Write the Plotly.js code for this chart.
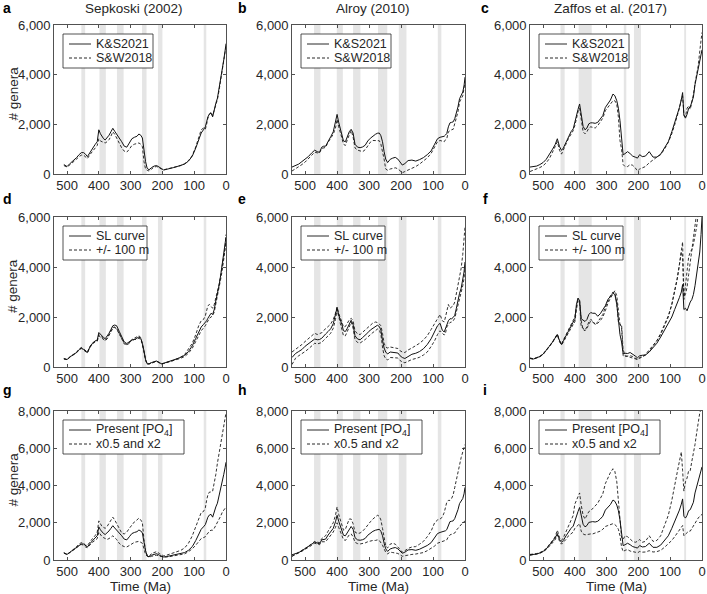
<!DOCTYPE html>
<html><head><meta charset="utf-8">
<script src="https://cdn.plot.ly/plotly-3.0.1.min.js"></script>
<style>html,body{margin:0;padding:0;background:#fff}#chart{width:707px;height:594px}</style>
</head><body><div id="chart"></div>
<script>
// ---------- data (ages in Ma, values = # genera) ----------
const age = [541,530,520,510,500, 490,480,470,462,455, 448,442,436,428,420, 412,405,400,395,390,
  385,380,374,368,362, 356,350,344,336,328, 320,312,304,296,288, 280,274,268,263,258,
  253,248,242,234,226, 218,210,203,196,188, 178,166,154,142,130, 118,106,95,86,78,
  71,65,61,57,52, 47,42,37,32,27, 22,17,12,7,3, 0];

// Sepkoski (2002)
const sepKS = [null,null,null,380,300, 430,540,660,780,860, 860,800,700,880,1050, 1180,1300,1780,1620,1500,
  1420,1370,1450,1560,1700, 1840,1720,1620,1450,1300, 1120,1080,1250,1420,1480, 1520,1610,1560,1450,900,
  500,230,170,260,320, 340,260,220,160,180, 220,255,300,340,400, 520,720,1050,1350,1650,
  1780,1900,2100,2300,2420, 2450,2300,2600,2850,3050, 3400,3800,4200,4600,4950, 5250];
const sepSW = [null,null,null,340,280, 380,480,600,700,760, 760,700,620,780,900, 1000,1150,1420,1330,1300,
  1260,1250,1300,1380,1520, 1700,1600,1450,1250,1050, 920,880,1000,1150,1200, 1230,1250,1200,1100,500,
  200,150,120,200,280, 300,230,200,170,190, 230,270,300,340,420, 540,750,1100,1450,1780,
  1850,1800,2000,2250,2400, 2500,2350,2550,2800,3000, 3350,3800,4150,4550,4900, 5100];
const sepSL = [null,null,null,330,300, 410,500,580,700,760, 700,620,580,800,950, 1040,1080,1380,1300,1250,
  1180,1130,1220,1350,1500, 1650,1680,1650,1430,1200, 1000,940,1000,1080,1100, 1150,1200,1150,950,650,
  300,130,130,180,200, 240,180,130,150,180, 230,270,330,390,470, 620,850,1150,1400,1600,
  1700,1780,1850,1950,2050, 2150,2100,2300,2650,2900, 3250,3650,4050,4550,4900, 5200];
const sepSLhi = [null,null,null,340,290, 400,490,570,680,740, 680,600,560,780,920, 1000,1050,1300,1250,1200,
  1130,1080,1150,1300,1450, 1580,1600,1550,1350,1100, 920,880,950,1100,1150, 1200,1250,1180,950,620,
  280,120,120,170,190, 220,170,130,150,170, 220,260,320,400,500, 700,950,1300,1650,1850,
  1900,2050,2250,2450,2500, 2400,2350,2500,2750,3000, 3300,3650,4000,4350,4700, 5000];
const sepSLlo = [null,null,null,320,300, 420,510,590,720,780, 720,640,600,820,960, 1020,1030,1250,1200,1150,
  1100,1050,1120,1250,1400, 1550,1580,1520,1330,1150, 950,900,980,1060,1100, 1100,1150,1100,900,600,
  280,130,120,170,200, 240,170,120,140,170, 210,250,300,350,420, 550,750,1000,1250,1450,
  1550,1650,1750,1850,1950, 2000,2050,2200,2500,2800, 3150,3500,3850,4300,4700, 5300];
const sepPx2 = [null,null,null,380,300, 420,550,720,860,930, 900,800,780,980,1150, 1300,1500,2100,1900,1800,
  1750,1700,1800,1950,2100, 2300,2150,1950,1700,1450, 1400,1500,1700,1900,2050, 2150,2250,2150,2000,1100,
  500,250,200,350,420, 450,350,300,220,250, 300,370,450,520,650, 900,1300,1800,2300,2550,
  2600,2800,3200,3500,3650, 3650,3700,4100,4600,5200, 5700,6200,6800,7300,7700, 7900];
const sepPx05 = [null,null,null,380,300, 410,520,650,780,830, 800,700,660,820,950, 1050,1150,1500,1350,1250,
  1200,1150,1100,1150,1250, 1300,1200,1100,900,780, 720,700,780,880,950, 980,1000,950,900,600,
  300,200,150,200,250, 260,200,180,150,160, 180,220,250,280,330, 450,600,800,1000,1150,
  1200,1250,1350,1450,1550, 1600,1600,1700,1850,2000, 2150,2350,2550,2700,2800, 2850];

// Alroy (2010)
const alrKS = [280,340,400,500,600, 700,840,960,900,870, 1080,1120,1120,1340,1500, 1700,2050,2400,2080,1850,
  1600,1330,1300,1480,1700, 1800,1650,1200,1080,1060, 1090,1160,1330,1440,1540, 1600,1640,1650,1540,1300,
  900,600,460,590,640, 670,600,480,360,420, 540,560,520,580,660, 780,930,1200,1420,1480,
  1500,1520,1570,1630,1900, 2060,2080,2100,2230,2450, 2700,3030,3150,3300,3550, 3900];
const alrSW = [120,200,280,380,480, 600,740,880,850,850, 1030,1060,1070,1280,1430, 1600,1850,2200,1900,1700,
  1450,1200,1150,1380,1600, 1750,1500,1050,960,920, 900,980,1150,1280,1350, 1350,1350,1340,1200,950,
  600,200,150,200,230, 250,210,120,50,100, 160,220,300,400,520, 650,830,1100,1300,1350,
  1320,1300,1380,1420,1700, 1750,1780,1800,2050,2350, 2500,2900,3050,3150,3450, 3750];
const alrSL = [380,540,620,700,830, 920,1020,1120,1090,1100, 1150,1250,1320,1420,1530, 1730,2050,2380,2080,1900,
  1700,1450,1420,1550,1750, 1870,1700,1250,1120,1090, 1180,1260,1370,1480,1550, 1620,1670,1620,1480,1070,
  760,600,520,600,580, 570,560,450,380,340, 420,510,550,620,730, 900,1130,1400,1650,1750,
  1470,1400,1550,1730,1850, 1930,1930,1980,2070,2350, 2700,2950,3150,3450,3800, 4200];
const alrSLhi = [600,700,800,900,1020, 1130,1260,1350,1300,1330, 1370,1460,1520,1620,1720, 1900,2150,2400,2150,2000,
  1800,1600,1620,1750,1880, 1950,1850,1450,1320,1300, 1400,1480,1600,1700,1760, 1800,1780,1720,1650,1350,
  950,800,760,800,780, 760,740,650,600,580, 680,760,850,950,1080, 1250,1500,1750,1950,2100,
  1850,1800,2000,2250,2500, 2350,2400,2450,2600,2950, 3250,3600,3950,4500,5000, 5600];
const alrSLlo = [100,350,450,520,620, 720,830,950,920,940, 980,1070,1150,1250,1350, 1550,1900,2300,1950,1750,
  1500,1250,1250,1400,1600, 1800,1550,1100,980,960, 1020,1100,1200,1300,1380, 1450,1520,1480,1300,800,
  450,330,280,380,380, 370,360,260,200,170, 230,300,340,390,480, 600,820,1050,1300,1450,
  1350,1280,1350,1600,1700, 1780,1800,1850,1950,2200, 2450,2750,3000,3250,3550, 3900];
const alrPx2 = [200,300,400,520,620, 720,860,1000,950,930, 1150,1250,1300,1550,1750, 2000,2400,2850,2450,2150,
  1900,1600,1650,1950,2200, 2200,1950,1500,1420,1450, 1550,1700,1900,2050,2200, 2300,2400,2350,2150,1700,
  1100,750,650,850,900, 850,700,550,420,500, 620,700,720,850,1000, 1250,1550,2000,2150,2200,
  2300,2550,2800,3100,3200, 3200,3300,3500,3900,4300, 4800,5200,5500,5800,6100, 6200];
const alrPx05 = [200,280,380,470,560, 650,780,900,860,820, 980,1000,980,1150,1300, 1500,1750,2000,1750,1550,
  1350,1100,1050,1200,1350, 1400,1250,950,880,860, 880,920,980,1020,1050, 1050,1080,1050,950,800,
  600,420,330,420,400, 380,350,280,200,230, 280,300,320,360,400, 500,620,750,900,950,
  980,1000,1050,1080,1250, 1350,1380,1400,1450,1600, 1700,1850,1950,2000,2050, 2100];

// Zaffos et al. (2017)
const zafKS = [280,300,320,380,460, 590,780,1000,1180,1420, 1100,950,1050,1290,1520, 1700,1820,2100,2450,2600,
  2820,2400,1920,1780,1850, 2020,2060,2060,2040,2080, 2200,2350,2680,2830,2980, 3220,3150,2950,2650,2150,
  1250,770,820,900,820, 720,680,640,780,700, 720,900,680,680,800, 1050,1300,1700,2040,2380,
  2680,3000,3280,2350,2250, 2400,2650,2700,2900,3100, 3600,3950,4250,4550,4800, 5000];
const zafSW = [100,150,200,260,330, 450,620,860,1100,1300, 950,800,950,1200,1430, 1620,1750,1950,2300,2500,
  2650,2150,1700,1620,1700, 1850,1900,1880,1850,1950, 2100,2250,2550,2700,2850, 2950,2950,2800,2300,1350,
  1000,380,300,300,380, 350,250,120,200,250, 300,450,580,680,780, 1000,1280,1620,1980,2320,
  2650,3000,3150,2400,2300, 2650,2750,2600,2850,3200, 3650,4000,4350,4950,5400, 5700];
const zafSL = [350,320,370,420,510, 650,830,1000,1140,1300, 1050,900,1050,1250,1470, 1650,1800,1900,2500,2760,
  2650,1930,1880,1820,1900, 2100,2180,2150,2150,2030, 2130,2280,2450,2700,2830, 2950,2900,2500,1900,1300,
  1000,530,550,540,580, 520,440,370,450,470, 480,600,760,950,1200, 1480,1700,2000,2300,2530,
  2780,3000,3300,2300,2350, 2250,2450,2600,2700,2900, 3250,3650,4100,4600,5300, 6000];
const zafSLhi = [340,310,360,410,500, 640,820,990,1120,1280, 1000,880,1000,1200,1400, 1550,1700,1800,2300,2650,
  2550,1600,1550,1480,1600, 1800,1900,1850,1700,1750, 1850,2000,2250,2550,2750, 2950,3050,2850,2200,1700,
  1700,700,450,420,400, 380,320,300,350,400, 500,680,850,1050,1300, 1650,2000,2500,3000,3550,
  4100,4800,5000,2700,3200, 3900,4400,4600,4700,4900, 5200,5600,6100,6800,7500, 8000];
const zafSLlo = [360,330,380,430,520, 660,840,1010,1150,1320, 1060,920,1080,1280,1500, 1700,1850,2000,2400,2700,
  2700,1850,1500,1450,1550, 1700,1850,1800,1700,1800, 1950,2100,2400,2650,2850, 3000,2950,2600,1800,1700,
  1600,450,420,440,450, 420,360,300,380,430, 470,620,820,1050,1350, 1700,2050,2500,3000,3500,
  4100,4600,4400,2800,2900, 3200,3700,4100,4500,4900, 5300,5800,6300,6800,7300, 7800];
const zafPx2 = [300,320,340,400,480, 620,820,1050,1250,1600, 1200,1050,1200,1500,1800, 2100,2400,3000,3200,3300,
  3600,2950,2400,2200,2400, 2600,2650,2750,2900,3050, 3300,3550,4100,4400,4700, 4900,4750,4200,3300,2500,
  1200,1100,1300,1250,1100, 1000,950,1000,1100,950, 1000,1300,1000,1050,1300, 1800,2400,3200,3900,4700,
  5300,5800,4800,3700,4200, 4400,4800,4800,5300,5700, 6200,6800,7400,7900,8100, 8200];
const zafPx05 = [250,280,300,360,440, 560,740,920,1080,1350, 1000,850,950,1100,1300, 1400,1500,1700,1800,1900,
  1950,1550,1400,1350,1380, 1400,1400,1400,1450,1500, 1550,1650,1800,1850,1900, 1950,1900,1800,1650,1300,
  700,450,520,560,480, 430,420,380,460,420, 430,500,430,450,520, 680,850,1050,1250,1450,
  1650,1800,1850,1300,1400, 1500,1550,1550,1700,1850, 2000,2150,2250,2350,2400, 2450];

// grey intervals [older, younger] Ma, one list per dataset column
const bandsSep = [[455,443],[398,378],[343,322],[264,250],[214,200],[70,62]];
const bandsAlr = [[472,452],[401,382],[350,327],[272,243],[207,183],[85,74]];
const bandsZaf = [[445,432],[388,347],[246,238],[214,192],[56,50]];

const columnTitles = ['Sepkoski (2002)', 'Alroy (2010)', 'Zaffos et al. (2017)'];
const panelLetters = ['a','b','c','d','e','f','g','h','i'];
const legendLabels = [['K&S2021','S&W2018'], ['SL curve','+/- 100 m'], ['Present [PO<sub>4</sub>]','x0.5 and x2']];
const xTicks = [500,400,300,200,100,0];
const yTicksRow = [[0,2000,4000,6000],[0,2000,4000,6000],[0,2000,4000,6000,8000]];
const yMaxRow = [6000, 6000, 8000];

// ---------- layout geometry ----------
const W = 707, H = 594;
const colPx = [[54,226],[292,465],[530,702]];
const rowPx = [[25,174],[217,367],[411,560]];
const letterX = [7, 242, 485], letterY = [8, 199, 390];
const legW = [90, 84, 121], legH = 34;
const px2x = p => p / W;
const px2y = p => 1 - p / H;
const ink = '#262626';
const FONT = 'Liberation Sans, Arial, Helvetica, sans-serif';

const panels = [
  [sepKS, [sepSW], bandsSep], [alrKS, [alrSW], bandsAlr], [zafKS, [zafSW], bandsZaf],
  [sepSL, [sepSLhi, sepSLlo], bandsSep], [alrSL, [alrSLhi, alrSLlo], bandsAlr], [zafSL, [zafSLhi, zafSLlo], bandsZaf],
  [sepKS, [sepPx2, sepPx05], bandsSep], [alrKS, [alrPx2, alrPx05], bandsAlr], [zafKS, [zafPx2, zafPx05], bandsZaf]
];

const data = [], shapes = [], annotations = [];
const layout = {
  width: W, height: H, margin: {l:0, r:0, t:0, b:0},
  paper_bgcolor: '#fff', plot_bgcolor: '#fff', showlegend: false,
  font: {family: FONT, size: 13, color: ink}
};

panels.forEach((p, k) => {
  const r = Math.floor(k / 3), c = k % 3, id = k === 0 ? '' : String(k + 1);
  const common = {ticks: 'inside', ticklen: 3, tickwidth: 0.8, tickcolor: ink, showline: true,
    linecolor: ink, linewidth: 0.8, mirror: 'ticks', showgrid: false, zeroline: false, fixedrange: true,
    ticklabeloverflow: 'allow', tickfont: {family: FONT, size: 13, color: ink}};
  layout['xaxis' + id] = Object.assign({}, common, {
    domain: [px2x(colPx[c][0]), px2x(colPx[c][1])], range: [541, 0], anchor: 'y' + id,
    tickmode: 'array', tickvals: xTicks, ticktext: xTicks.map(String)});
  layout['yaxis' + id] = Object.assign({}, common, {
    domain: [px2y(rowPx[r][1]), px2y(rowPx[r][0])], range: [0, yMaxRow[r]], anchor: 'x' + id,
    tickmode: 'array', tickvals: yTicksRow[r], tickformat: ',d'});

  p[2].forEach(b => shapes.push({type: 'rect', xref: 'x' + id, yref: 'y' + id + ' domain',
    x0: b[0], x1: b[1], y0: 0, y1: 1, fillcolor: '#e5e5e5', line: {width: 0}, layer: 'below'}));

  p[1].forEach(s => data.push({x: age, y: s, xaxis: 'x' + id, yaxis: 'y' + id, type: 'scatter', mode: 'lines',
    line: {color: '#1a1a1a', width: 0.9, dash: '3px,2px'}, hoverinfo: 'skip', connectgaps: false}));
  data.push({x: age, y: p[0], xaxis: 'x' + id, yaxis: 'y' + id, type: 'scatter', mode: 'lines',
    line: {color: '#111', width: 1}, hoverinfo: 'skip', connectgaps: false});

  // legend box
  const L = colPx[c][0] + 9, T = rowPx[r][0] + 9;
  shapes.push({type: 'rect', xref: 'paper', yref: 'paper', x0: px2x(L), x1: px2x(L + legW[r]),
    y0: px2y(T + legH), y1: px2y(T), fillcolor: '#fff', line: {color: ink, width: 0.8}, layer: 'above'});
  [0, 1].forEach(j => {
    const yy = T + 10 + j * 14;
    shapes.push({type: 'line', xref: 'paper', yref: 'paper', x0: px2x(L + 6), x1: px2x(L + 28),
      y0: px2y(yy), y1: px2y(yy), line: {color: '#111', width: 0.9, dash: j ? '3px,2px' : 'solid'}, layer: 'above'});
    annotations.push({xref: 'paper', yref: 'paper', x: px2x(L + 31), y: px2y(yy), xanchor: 'left', yanchor: 'middle',
      text: legendLabels[r][j], showarrow: false, font: {family: FONT, size: 12.5, color: ink}});
  });

  // panel letter
  annotations.push({xref: 'paper', yref: 'paper', x: px2x(letterX[c]), y: px2y(letterY[r]), xanchor: 'center', yanchor: 'middle',
    text: '<b>' + panelLetters[k] + '</b>', showarrow: false, font: {family: FONT, size: 14, color: '#000'}});
});

columnTitles.forEach((t, c) => annotations.push({xref: 'paper', yref: 'paper', x: px2x((colPx[c][0] + colPx[c][1]) / 2 - 6),
  y: px2y(8), xanchor: 'center', yanchor: 'middle', text: t, showarrow: false, font: {family: FONT, size: 13.5, color: ink}}));
rowPx.forEach(rp => annotations.push({xref: 'paper', yref: 'paper', x: px2x(13), y: px2y((rp[0] + rp[1]) / 2 - 6),
  xanchor: 'center', yanchor: 'middle', textangle: -90, text: '# genera', showarrow: false, font: {family: FONT, size: 13.5, color: ink}}));
colPx.forEach(cp => annotations.push({xref: 'paper', yref: 'paper', x: px2x((cp[0] + cp[1]) / 2), y: px2y(586),
  xanchor: 'center', yanchor: 'middle', text: 'Time (Ma)', showarrow: false, font: {family: FONT, size: 13.5, color: ink}}));

layout.shapes = shapes;
layout.annotations = annotations;
Plotly.newPlot('chart', data, layout, {staticPlot: true, displayModeBar: false});
</script>
</body></html>
